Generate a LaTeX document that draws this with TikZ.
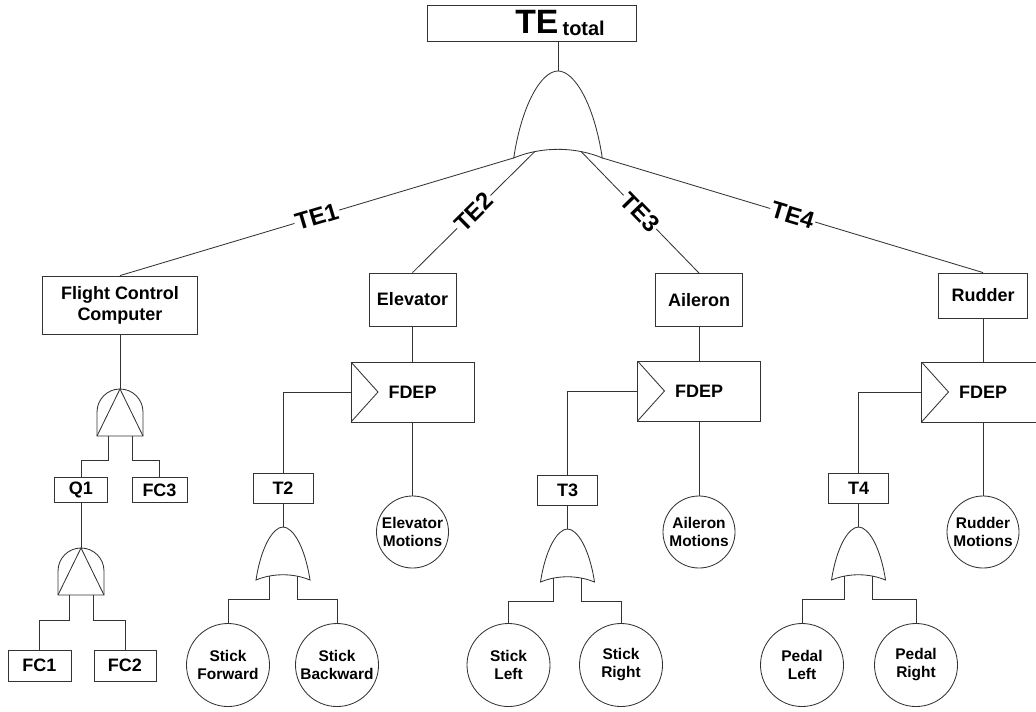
\documentclass[tikz,border=0pt]{standalone}
\usepackage{fontspec}
\setmainfont{Liberation Sans}
\usepackage{tikz}
\usetikzlibrary{calc}
\colorlet{colorLN}{black!80}
\tikzset{
   ln/.style={draw=colorLN,line width=0.6pt},
   gate/.style={ln,fill=white},
   evbox/.style={ln,rectangle,inner sep=0pt,align=center,
     font=\fontsize{12.8}{15}\selectfont\bfseries},
   basic/.style={ln,circle,inner sep=0pt,minimum size=2.075cm,align=center,
     font=\fontsize{11}{12.8}\selectfont\bfseries},
   motion/.style={basic,minimum size=1.8cm},
   fdep/.style={evbox,minimum width=3.075cm,minimum height=1.5cm,
     path picture={\draw[ln] (path picture bounding box.north west)
       -- ($(path picture bounding box.west)+(27,0)$)
       -- (path picture bounding box.south west);}},
   telab/.style={fill=white,sloped,inner sep=1pt,
     font=\fontsize{17}{19}\selectfont\bfseries},
   orgate/.pic={
     \draw[gate] (-27,53) .. controls (-22,20) and (-10,0) .. (0,0)
       .. controls (10,0) and (22,20) .. (27,53)
       .. controls (10,46) and (-10,46) .. cycle;
     \coordinate (-top) at (0,0);
     \coordinate (-a) at (-27,53);
     \coordinate (-b) at (-14,49);
     \coordinate (-c) at (14,49);
     \coordinate (-d) at (27,53);
   },
   andgate/.pic={
     \draw[gate] (-23,47) -- (-23,23) arc[start angle=180,end angle=360,radius=23]
       -- (23,47) -- cycle;
     \draw[ln] (-23,47) -- (0,0) -- (23,47);
     \coordinate (-top) at (0,0);
     \coordinate (-l) at (-12,47);
     \coordinate (-r) at (12,47);
   },
}

\begin{document}
\begin{tikzpicture}[x=0.025cm,y=-0.025cm]
  \useasboundingbox (0,0) rectangle (1036,711);

  % top event
  \node[evbox,minimum width=5.225cm,minimum height=0.9cm] (te) at (531.5,23)
    {\hspace*{1.425cm}{\fontsize{24}{24}\selectfont TE}\hspace{3pt}%
     \raisebox{-1.4pt}{\fontsize{14.2}{14}\selectfont total}};
  \pic[scale=1.64] (gate) at (558,71) {orgate};

  % subsystems
  \node[evbox,minimum width=3.875cm,minimum height=1.45cm] (fcc) at (120,305)
    {Flight Control\\Computer};
  \node[evbox,minimum width=2.175cm,minimum height=1.325cm] (elev) at (412.5,299.5) {Elevator};
  \node[evbox,minimum width=2.175cm,minimum height=1.325cm] (ail)  at (699,300)     {Aileron};
  \node[evbox,minimum width=2.225cm,minimum height=1.125cm] (rud)  at (983,295.5)   {Rudder};

  % flight control computer
  \pic (and1) at (120,389) {andgate};
  \node[evbox,minimum width=1.325cm,minimum height=0.625cm] (q1)  at (81,490)    {Q1};
  \node[evbox,minimum width=1.375cm,minimum height=0.625cm] (fc3) at (159.5,490) {FC3};
  \pic (and2) at (81,548) {andgate};
  \node[evbox,minimum width=1.575cm,minimum height=0.775cm] (fc1) at (39.5,665.5) {FC1};
  \node[evbox,minimum width=1.55cm,minimum height=0.775cm]  (fc2) at (125,665.5)  {FC2};

  % FDEP gates
  \node[fdep] (fd2) at (412.5,392) {FDEP};
  \node[fdep] (fd3) at (699,391)   {FDEP};
  \node[fdep] (fd4) at (983,392)   {FDEP};

  \node[evbox,minimum width=1.5cm,minimum height=0.75cm] (t2) at (283,488)   {T2};
  \node[evbox,minimum width=1.5cm,minimum height=0.75cm] (t3) at (567.5,490) {T3};
  \node[evbox,minimum width=1.5cm,minimum height=0.75cm] (t4) at (858.5,488) {T4};

  \node[motion] (em) at (412.5,532) {Elevator\\Motions};
  \node[motion] (am) at (699,532)   {Aileron\\Motions};
  \node[motion] (rm) at (983,532)   {Rudder\\Motions};

  \pic (or2) at (283,527)   {orgate};
  \pic (or3) at (567.5,529) {orgate};
  \pic (or4) at (858.5,527) {orgate};

  \node[basic] (sf) at (228,665)   {Stick\\Forward};
  \node[basic] (sb) at (337,665)   {Stick\\Backward};
  \node[basic] (sl) at (508.5,665) {Stick\\Left};
  \node[basic] (sr) at (621,665)   {Stick\\Right};
  \node[basic] (pl) at (802,665)   {Pedal\\Left};
  \node[basic] (pr) at (916,665)   {Pedal\\Right};

  % top level
  \draw[ln] (gate-top) -- (gate-top |- te.south);
  \draw[ln] (fcc.north)  edge node[telab] {TE1} (gate-a);
  \draw[ln] (elev.north) edge node[telab] {TE2} (gate-b);
  \draw[ln] (gate-c) edge node[telab] {TE3} (ail.north);
  \draw[ln] (gate-d) edge node[telab] {TE4} (rud.north);

  % flight control computer
  \draw[ln] (fcc.south) -- (and1-top);
  \draw[ln] (and1-l) -- ++(0,24) -| (q1.north);
  \draw[ln] (and1-r) -- ++(0,24) -| (fc3.north);
  \draw[ln] (q1.south) -- (and2-top);
  \draw[ln] (and2-l) -- ++(0,25) -| (fc1.north);
  \draw[ln] (and2-r) -- ++(0,25) -| (fc2.north);

  % elevator
  \draw[ln] (elev.south) -- (fd2.north);
  \draw[ln] (fd2.south)  -- (em.north);
  \draw[ln] (fd2.west)   -| (t2.north);
  \draw[ln] (t2.south)   -- (or2-top);
  \draw[ln] (or2-b) -- ++(0,23) -| (sf.north);
  \draw[ln] (or2-c) -- ++(0,23) -| (sb.north);

  % aileron
  \draw[ln] (ail.south) -- (fd3.north);
  \draw[ln] (fd3.south) -- (am.north);
  \draw[ln] (fd3.west)  -| (t3.north);
  \draw[ln] (t3.south)  -- (or3-top);
  \draw[ln] (or3-b) -- ++(0,23) -| (sl.north);
  \draw[ln] (or3-c) -- ++(0,23) -| (sr.north);

  % rudder
  \draw[ln] (rud.south) -- (fd4.north);
  \draw[ln] (fd4.south) -- (rm.north);
  \draw[ln] (fd4.west)  -| (t4.north);
  \draw[ln] (t4.south)  -- (or4-top);
  \draw[ln] (or4-b) -- ++(0,23) -| (pl.north);
  \draw[ln] (or4-c) -- ++(0,23) -| (pr.north);
\end{tikzpicture}
\end{document}
